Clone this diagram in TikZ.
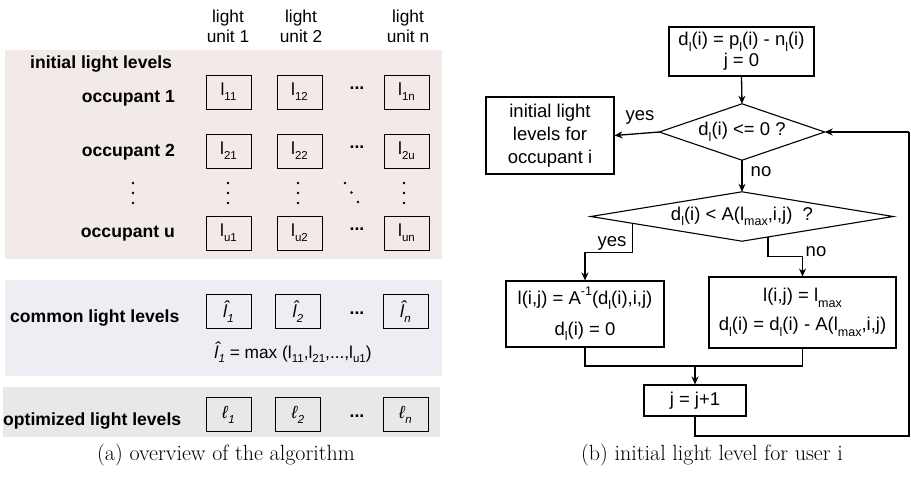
\documentclass[tikz,border=0pt]{standalone}
\usepackage{fontspec}
\newfontfamily\arial{Liberation Sans}
\usetikzlibrary{shapes.geometric,arrows.meta,calc}
\definecolor{pinkbg}{HTML}{F2EAE8}
\definecolor{bluebg}{HTML}{ECEEF3}
\definecolor{graybg}{HTML}{E8E8E8}
\newcommand\sbx[1]{\raisebox{-0.28em}{\fontsize{11.5}{12}\selectfont #1}}
\newcommand\fsb[1]{\raisebox{-0.3em}{\fontsize{12.5}{13}\selectfont #1}}
\newcommand\fsp[1]{\raisebox{0.45em}{\fontsize{12.5}{13}\selectfont #1}}
\newcommand\lhat{\makebox[0pt][l]{\hspace{0.02em}\raisebox{0.2em}{\textit{\char"02C6}}}\textit{l}}
\newcommand\lscr{\textit{\char"2113}}
\begin{document}
\begin{tikzpicture}[x=1pt,y=-1pt,
  lbl/.style={font=\arial\fontsize{17.3}{20}\selectfont, inner sep=0},
  bld/.style={font=\arial\bfseries\fontsize{17.6}{20}\selectfont, inner sep=0},
  cell/.style={draw, line width=0.9pt, minimum width=45pt, minimum height=34pt, inner sep=0,
    font=\arial\fontsize{17.5}{20}\selectfont},
  fc/.style={font=\arial\fontsize{18.5}{23}\selectfont, inner sep=0},
  fbox/.style={fc, draw, line width=1.1pt, align=center},
  dia/.style={fc, shape=rectangle},
  diaedge/.style={line width=1.1pt},
  ln/.style={line width=1.3pt},
  arr/.style={ln, -{Stealth[length=8pt,width=7pt]}},
  captxt/.style={font=\fontsize{22}{25}\selectfont, inner sep=0},
  vd/.style={fill=black}
]
\useasboundingbox (0,0) rectangle (911,477);

% ---------- (a) ----------
\fill[pinkbg] (5,50) rectangle (442,259);
\fill[bluebg] (5,280) rectangle (442,376);
\fill[graybg] (3,387) rectangle (440,437);

\node[lbl, align=center] (h1) at (228,26) {light\\unit 1};
\node[lbl, align=center] (h2) at (301,26) {light\\unit 2};
\node[lbl, align=center] (hn) at (408,26) {light\\unit n};

\node[bld, anchor=base west] (ill) at (30,68) {initial light levels};
\node[bld, anchor=base east] (o1) at (175,102) {occupant 1};
\node[bld, anchor=base east] (o2) at (175,156) {occupant 2};
\node[bld, anchor=base east] (ou) at (175,237) {occupant u};

\node[cell] (c11) at (228.5,92) {l\sbx{11}};
\node[cell] (c12) at (299.5,92) {l\sbx{12}};
\node[cell] (c1n) at (406.5,92) {l\sbx{1n}};
\node[cell] (c21) at (228.5,151) {l\sbx{21}};
\node[cell] (c22) at (299.5,151) {l\sbx{22}};
\node[cell] (c2n) at (406.5,151) {l\sbx{2u}};
\node[cell] (cu1) at (228.5,233) {l\sbx{u1}};
\node[cell] (cu2) at (299.5,233) {l\sbx{u2}};
\node[cell] (cun) at (406.5,233) {l\sbx{un}};

\foreach \yy in {89,148,230}
  \node[bld, anchor=base] at (357,\yy) {...};

% vertical and diagonal dots
\foreach \xx in {133,228,298,404}
  \foreach \yy in {183,193,203}
    \fill[vd] (\xx,\yy) circle (1.3);
\fill[vd] (345,183) circle (1.3);
\fill[vd] (351.5,192.5) circle (1.3);
\fill[vd] (358,202) circle (1.3);

\node[bld, anchor=base west] (cll) at (10,322) {common light levels};
\node[cell] (m1) at (228.5,311.5) {\lhat\sbx{\textit{1}}};
\node[cell] (m2) at (298,311.5) {\lhat\sbx{\textit{2}}};
\node[cell] (mn) at (405.5,311.5) {\lhat\sbx{\textit{n}}};
\node[bld, anchor=base] at (357,314) {...};
\node[lbl, anchor=base] (form) at (293,358) {\lhat\sbx{\textit{1}} = max (l\sbx{11},l\sbx{21},...,l\sbx{u1})};

\node[bld, anchor=base west] (oll) at (3,425) {optimized light levels};
\node[cell] (p1) at (228.5,414.5) {\lscr\sbx{\textit{1}}};
\node[cell] (p2) at (298,414.5) {\lscr\sbx{\textit{2}}};
\node[cell] (pn) at (405.5,414.5) {\lscr\sbx{\textit{n}}};
\node[bld, anchor=base] at (357,417) {...};

\node[captxt, anchor=base] (capa) at (226,460) {(a) overview of the algorithm};

% ---------- (b) ----------
\node[fbox, minimum width=145pt, minimum height=49pt] (init) at (741.5,51.5)
  {d\fsb{l}(i) = p\fsb{l}(i) - n\fsb{l}(i)\\[-2pt] j = 0};
\node[dia, minimum width=165pt, minimum height=56pt] (d1) at (742,132) {d\fsb{l}(i) <= 0 ?};
\draw[diaedge] (d1.north) -- (d1.east) -- (d1.south) -- (d1.west) -- cycle;
\node[fbox, minimum width=128pt, minimum height=77pt] (res) at (550,135.5)
  {initial light\\levels for\\occupant i};
\node[dia, minimum width=302pt, minimum height=49pt] (d2) at (742,216.5)
  {d\fsb{l}(i) < A(l\fsb{max},i,j)\ \ ?};
\draw[diaedge] (d2.north) -- (d2.east) -- (d2.south) -- (d2.west) -- cycle;
\node[fbox, minimum width=158pt, minimum height=66pt] (b1) at (585,314)
  {l(i,j) = A\fsp{-1}(d\fsb{l}(i),i,j)\\[8pt] d\fsb{l}(i) = 0};
\node[fbox, minimum width=187pt, minimum height=71pt] (b2) at (802.5,312.5)
  {l(i,j) = l\fsb{max}\\[6pt] d\fsb{l}(i) = d\fsb{l}(i) - A(l\fsb{max},i,j)};
\node[fbox, minimum width=102pt, minimum height=31pt] (inc) at (695,400.5) {j = j+1};

\node[fc] (yes1) at (640,117) {yes};
\node[fc] (no1) at (761,172) {no};
\node[fc] (yes2) at (612,243) {yes};
\node[fc] (no2) at (816,252) {no};

\draw[arr] (init.south) -- (d1.north);
\draw[arr] (d1.west) -- (res.east);
\draw[arr] (d1.south) -- (d2.north);

\coordinate (ys) at ($(d2.west)!0.278!(d2.south)$);
\coordinate (ns) at ($(d2.south)!0.172!(d2.east)$);
\draw[arr] (ys) |- ($(b1.north)+(0,-28)$) -- (b1.north);
\draw[arr] (ns) |- ($(b2.north)+(0,-20)$) -- (b2.north);

\coordinate (mj) at (695,366);
\draw[ln] (b1.south) |- (mj) -| (b2.south);
\draw[arr] (mj) -- (inc.north);

\coordinate (lp1) at (909,436);
\coordinate (lp2) at (909,132);
\draw[ln] (inc.south) |- (lp1) -- (lp2);
\draw[arr] (lp2) -- (d1.east);

\node[captxt, anchor=base] (capb) at (712,460) {(b) initial light level for user i};
\end{tikzpicture}
\end{document}
